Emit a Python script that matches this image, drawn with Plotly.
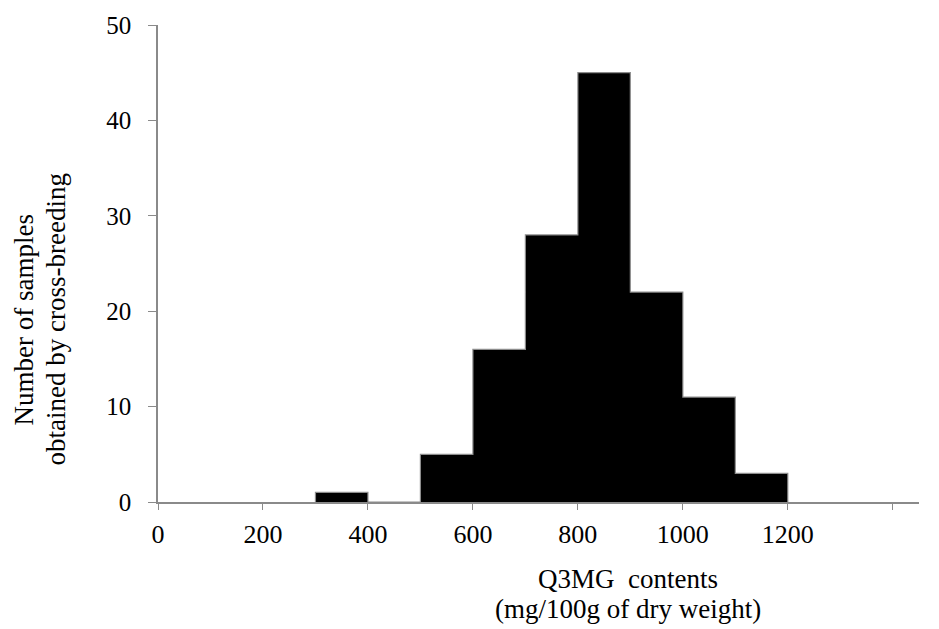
import plotly.graph_objects as go

# Histogram data (bins of 100 mg/100g)
bin_starts = [300, 400, 500, 600, 700, 800, 900, 1000, 1100]
counts = [1, 0, 5, 16, 28, 45, 22, 11, 3]
bin_width = 100

x_tick_vals = [0, 200, 400, 600, 800, 1000, 1200, 1400]
x_tick_text = ["0", "200", "400", "600", "800", "1000", "1200", ""]
y_tick_vals = [0, 10, 20, 30, 40, 50]

x_title_lines = ["Q3MG  contents", "(mg/100g of dry weight)"]
y_title_lines = ["Number of samples", "obtained by cross-breeding"]

centers = [s + bin_width / 2 for s in bin_starts]
# outline of the histogram (step line through the same data)
outline_x = [bin_starts[0]] + bin_starts + [bin_starts[-1] + bin_width]
outline_y = [0] + counts + [0]

FONT = "Liberation Serif, Times New Roman, serif"
AXIS_GRAY = "#8a8a8a"

fig = go.Figure()
fig.add_trace(go.Bar(
    x=centers,
    y=counts,
    width=[bin_width] * len(centers),
    marker=dict(color="black", line=dict(color="black", width=0)),
    showlegend=False,
    hoverinfo="skip",
))
fig.add_trace(go.Scatter(
    x=outline_x,
    y=outline_y,
    mode="lines",
    line=dict(color="#8c8c8c", width=1.2, shape="hv"),
    showlegend=False,
    hoverinfo="skip",
))

fig.update_layout(
    width=939,
    height=629,
    margin=dict(l=158, r=20, t=19, b=127),
    paper_bgcolor="white",
    plot_bgcolor="white",
    font=dict(family=FONT, color="black", size=26),
    bargap=0,
    xaxis=dict(
        range=[0, 1450],
        tickmode="array",
        tickvals=x_tick_vals,
        ticktext=x_tick_text,
        ticks="outside",
        ticklen=6,
        tickcolor=AXIS_GRAY,
        tickwidth=1.3,
        showline=True,
        linecolor=AXIS_GRAY,
        linewidth=1.5,
        showgrid=False,
        zeroline=False,
        ticklabelstandoff=2,
        tickfont=dict(family=FONT, size=26, color="black"),
    ),
    yaxis=dict(
        range=[0, 50],
        tickmode="array",
        tickvals=y_tick_vals,
        ticks="outside",
        ticklen=8,
        tickcolor=AXIS_GRAY,
        tickwidth=1.3,
        showline=True,
        linecolor=AXIS_GRAY,
        linewidth=1.5,
        showgrid=False,
        zeroline=False,
        ticklabelstandoff=12,
        tickfont=dict(family=FONT, size=25, color="black"),
    ),
)

# x-axis title (two separately placed lines)
for txt, ys in zip(x_title_lines, [-77, -107]):
    fig.add_annotation(
        text=txt, xref="paper", yref="paper", x=0, y=0,
        xanchor="center", yanchor="middle", xshift=470, yshift=ys,
        showarrow=False, font=dict(family=FONT, size=27, color="black"),
    )

# y-axis title (two separately placed rotated lines)
for txt, xs in zip(y_title_lines, [-134.5, -102.5]):
    fig.add_annotation(
        text=txt, xref="paper", yref="paper", x=0, y=0,
        xanchor="center", yanchor="middle", xshift=xs, yshift=182,
        textangle=-90,
        showarrow=False, font=dict(family=FONT, size=27, color="black"),
    )

fig.write_html("out.html")
